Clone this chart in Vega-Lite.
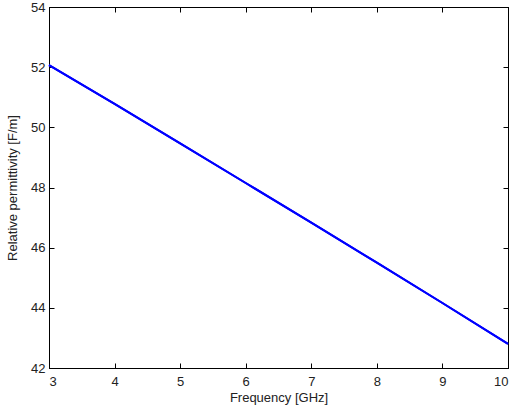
{
  "$schema": "https://vega.github.io/schema/vega-lite/v6.json",
  "autosize": "none",
  "width": 459,
  "height": 361,
  "padding": {"left": 49, "top": 7, "right": 16, "bottom": 46},
  "background": "white",
  "config": {
    "view": {"stroke": "#000000", "strokeWidth": 1},
    "axis": {
      "labelFont": "Liberation Sans",
      "titleFont": "Liberation Sans",
      "labelFontSize": 13,
      "titleFontSize": 13,
      "titleFontWeight": "normal",
      "labelColor": "#222222",
      "titleColor": "#222222",
      "domainColor": "#000000",
      "tickColor": "#000000",
      "grid": false,
      "tickSize": -5
    }
  },
  "data": {
    "values": [
      {"f": 3, "e": 52.07},
      {"f": 4, "e": 50.78},
      {"f": 5, "e": 49.47},
      {"f": 6, "e": 48.15},
      {"f": 7, "e": 46.83},
      {"f": 8, "e": 45.5},
      {"f": 9, "e": 44.16},
      {"f": 10, "e": 42.8}
    ]
  },
  "layer": [
    {
      "mark": {"type": "line", "color": "#0000ff", "strokeWidth": 2},
      "encoding": {
        "x": {"field": "f", "type": "quantitative", "scale": {"domain": [3, 10], "nice": false},
              "axis": {"title": "Frequency [GHz]", "values": [3,4,5,6,7,8,9,10], "labelPadding": 12, "titlePadding": 3}},
        "y": {"field": "e", "type": "quantitative", "scale": {"domain": [42, 54], "nice": false, "zero": false},
              "axis": {"title": "Relative permittivity [F/m]", "values": [42,44,46,48,50,52,54], "labelPadding": 9, "titlePadding": 11}}
      }
    },
    {
      "mark": {"type": "line", "color": "#0000ff", "strokeWidth": 2},
      "encoding": {
        "x": {"field": "f", "type": "quantitative", "scale": {"domain": [3, 10], "nice": false},
              "axis": {"orient": "top", "title": null, "labels": false, "values": [3,4,5,6,7,8,9,10]}},
        "y": {"field": "e", "type": "quantitative", "scale": {"domain": [42, 54], "nice": false, "zero": false},
              "axis": {"orient": "right", "title": null, "labels": false, "values": [42,44,46,48,50,52,54]}}
      }
    }
  ],
  "resolve": {"axis": {"x": "independent", "y": "independent"}}
}
